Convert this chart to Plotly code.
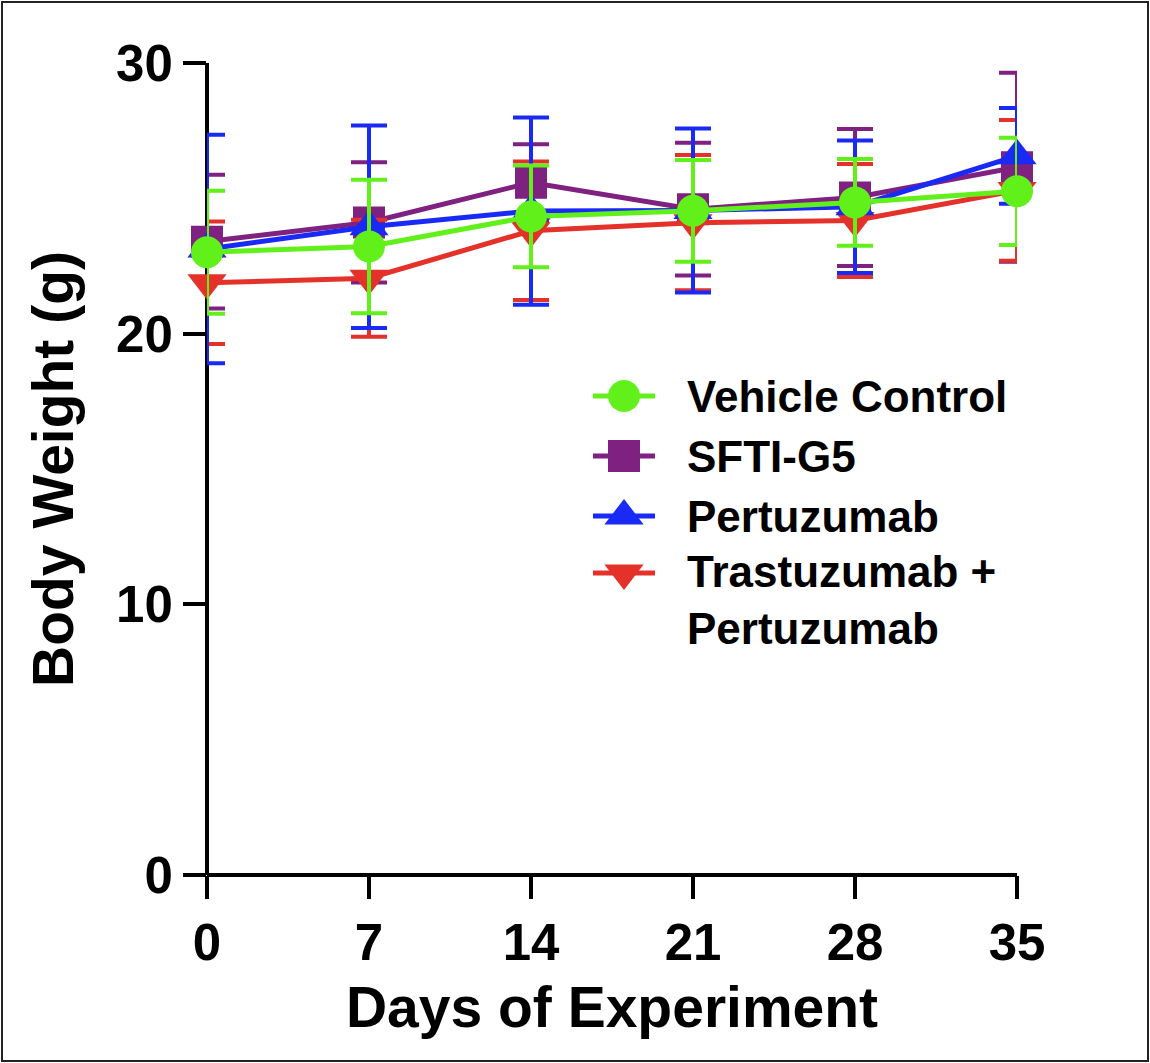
import plotly.graph_objects as go

# Body weight (g) over the course of the experiment, mean ± SD per group
days = [0, 7, 14, 21, 28, 35]

groups = ["Vehicle Control", "SFTI-G5", "Pertuzumab", "Trastuzumab +<br>Pertuzumab"]

vehicle_mean = [23.01, 23.22, 24.33, 24.54, 24.85, 25.26]
vehicle_sd = [2.27, 2.47, 1.88, 1.88, 1.60, 1.98]

sfti_mean = [23.40, 24.11, 25.58, 24.60, 25.03, 26.15]
sfti_sd = [2.47, 2.22, 1.42, 2.45, 2.53, 3.49]

pertuzumab_mean = [23.13, 23.95, 24.53, 24.55, 24.69, 26.57]
pertuzumab_sd = [4.22, 3.74, 3.46, 3.03, 2.45, 1.77]

combo_mean = [21.88, 22.05, 23.80, 24.10, 24.18, 25.29]
combo_sd = [2.26, 2.16, 2.56, 2.50, 2.09, 2.60]

x_ticks = [0, 7, 14, 21, 28, 35]
y_ticks = [0, 10, 20, 30]

# ---- styling / layout --------------------------------------------------
W, H = 1150, 1063
ML, MR, MT, MB = 207, 133, 63, 188
FONT = "Liberation Sans"

GREEN = "#62F01A"
PURPLE = "#7E2181"
BLUE = "#1A2AF6"
RED = "#E4312A"

styles = {
    "Vehicle Control": dict(color=GREEN, symbol="circle", size=32),
    "SFTI-G5": dict(color=PURPLE, symbol="square", size=32),
    "Pertuzumab": dict(color=BLUE, symbol="triangle-up", size=34),
    "Trastuzumab +<br>Pertuzumab": dict(color=RED, symbol="triangle-down", size=34),
}

series = {
    "Vehicle Control": (vehicle_mean, vehicle_sd),
    "SFTI-G5": (sfti_mean, sfti_sd),
    "Pertuzumab": (pertuzumab_mean, pertuzumab_sd),
    "Trastuzumab +<br>Pertuzumab": (combo_mean, combo_sd),
}

# stacking order, bottom to top
draw_order = ["SFTI-G5", "Trastuzumab +<br>Pertuzumab", "Pertuzumab", "Vehicle Control"]

fig = go.Figure()

for name in draw_order:
    mean, sd = series[name]
    st = styles[name]
    fig.add_trace(go.Scatter(
        x=days, y=mean, name=name.replace("<br>", " "),
        mode="lines+markers",
        line=dict(color=st["color"], width=5),
        marker=dict(color=st["color"], symbol=st["symbol"], size=st["size"],
                    opacity=1, line=dict(width=0)),
        error_y=dict(type="data", array=sd, visible=True,
                     color=st["color"], thickness=4, width=18),
        cliponaxis=False,
        showlegend=False,
    ))

# ---- hand-built legend on a pixel-space overlay --------------------------
legend_rows = [396, 456, 516, 573]
key_x0, key_x1, key_mid = 593, 655, 624
text_x = 685
line_gap = 54

for name, row in zip(groups, legend_rows):
    st = styles[name]
    fig.add_trace(go.Scatter(
        x=[key_x0, key_x1], y=[row, row],
        xaxis="x2", yaxis="y2", mode="lines",
        line=dict(color=st["color"], width=5),
        cliponaxis=False, showlegend=False, hoverinfo="skip",
    ))
    fig.add_trace(go.Scatter(
        x=[key_mid], y=[row],
        xaxis="x2", yaxis="y2", mode="markers",
        marker=dict(color=st["color"], symbol=st["symbol"], size=st["size"],
                    opacity=1, line=dict(width=0)),
        cliponaxis=False, showlegend=False, hoverinfo="skip",
    ))
    n_lines = name.count("<br>") + 1
    fig.add_annotation(
        x=text_x, y=row + (n_lines - 1) * line_gap / 2,
        xref="x2", yref="y2", text=name, showarrow=False,
        xanchor="left", yanchor="middle", align="left",
        font=dict(family=FONT, size=44, color="black", weight="bold"),
    )

axis_font = dict(family=FONT, size=51, color="black", weight="bold")
title_font = dict(family=FONT, size=57, color="black", weight="bold")

fig.update_layout(
    width=W, height=H,
    margin=dict(l=ML, r=MR, t=MT, b=MB, pad=0),
    paper_bgcolor="white", plot_bgcolor="white",
    showlegend=False,
    xaxis=dict(
        range=[0, 35], tickvals=x_ticks, ticktext=[str(v) for v in x_ticks],
        showgrid=False, showline=False,
        zeroline=True, zerolinecolor="black", zerolinewidth=4,
        ticks="outside", ticklen=23, tickwidth=4, tickcolor="black",
        tickfont=axis_font,
        title=dict(text="Days of Experiment", font=title_font, standoff=16),
        fixedrange=True,
    ),
    yaxis=dict(
        range=[0, 30], tickvals=y_ticks, ticktext=[str(v) for v in y_ticks],
        showgrid=False, showline=False,
        zeroline=True, zerolinecolor="black", zerolinewidth=4,
        ticks="outside", ticklen=23, tickwidth=4, tickcolor="black",
        tickfont=axis_font,
        title=dict(text="Body Weight (g)", font=title_font, standoff=24),
        fixedrange=True,
    ),
    xaxis2=dict(overlaying="x", range=[ML, W - MR], visible=False, fixedrange=True),
    yaxis2=dict(overlaying="y", range=[H - MB, MT], visible=False, fixedrange=True),
)

# thin frame round the whole figure
pw, ph = W - ML - MR, H - MT - MB
fig.add_shape(
    type="rect", xref="paper", yref="paper", layer="above",
    x0=(2 - ML) / pw, x1=(W - 2 - ML) / pw,
    y0=-(H - 2 - (H - MB)) / ph, y1=(H - MB - 2) / ph,
    line=dict(color="#222222", width=2),
)

fig.write_html("out.html")
